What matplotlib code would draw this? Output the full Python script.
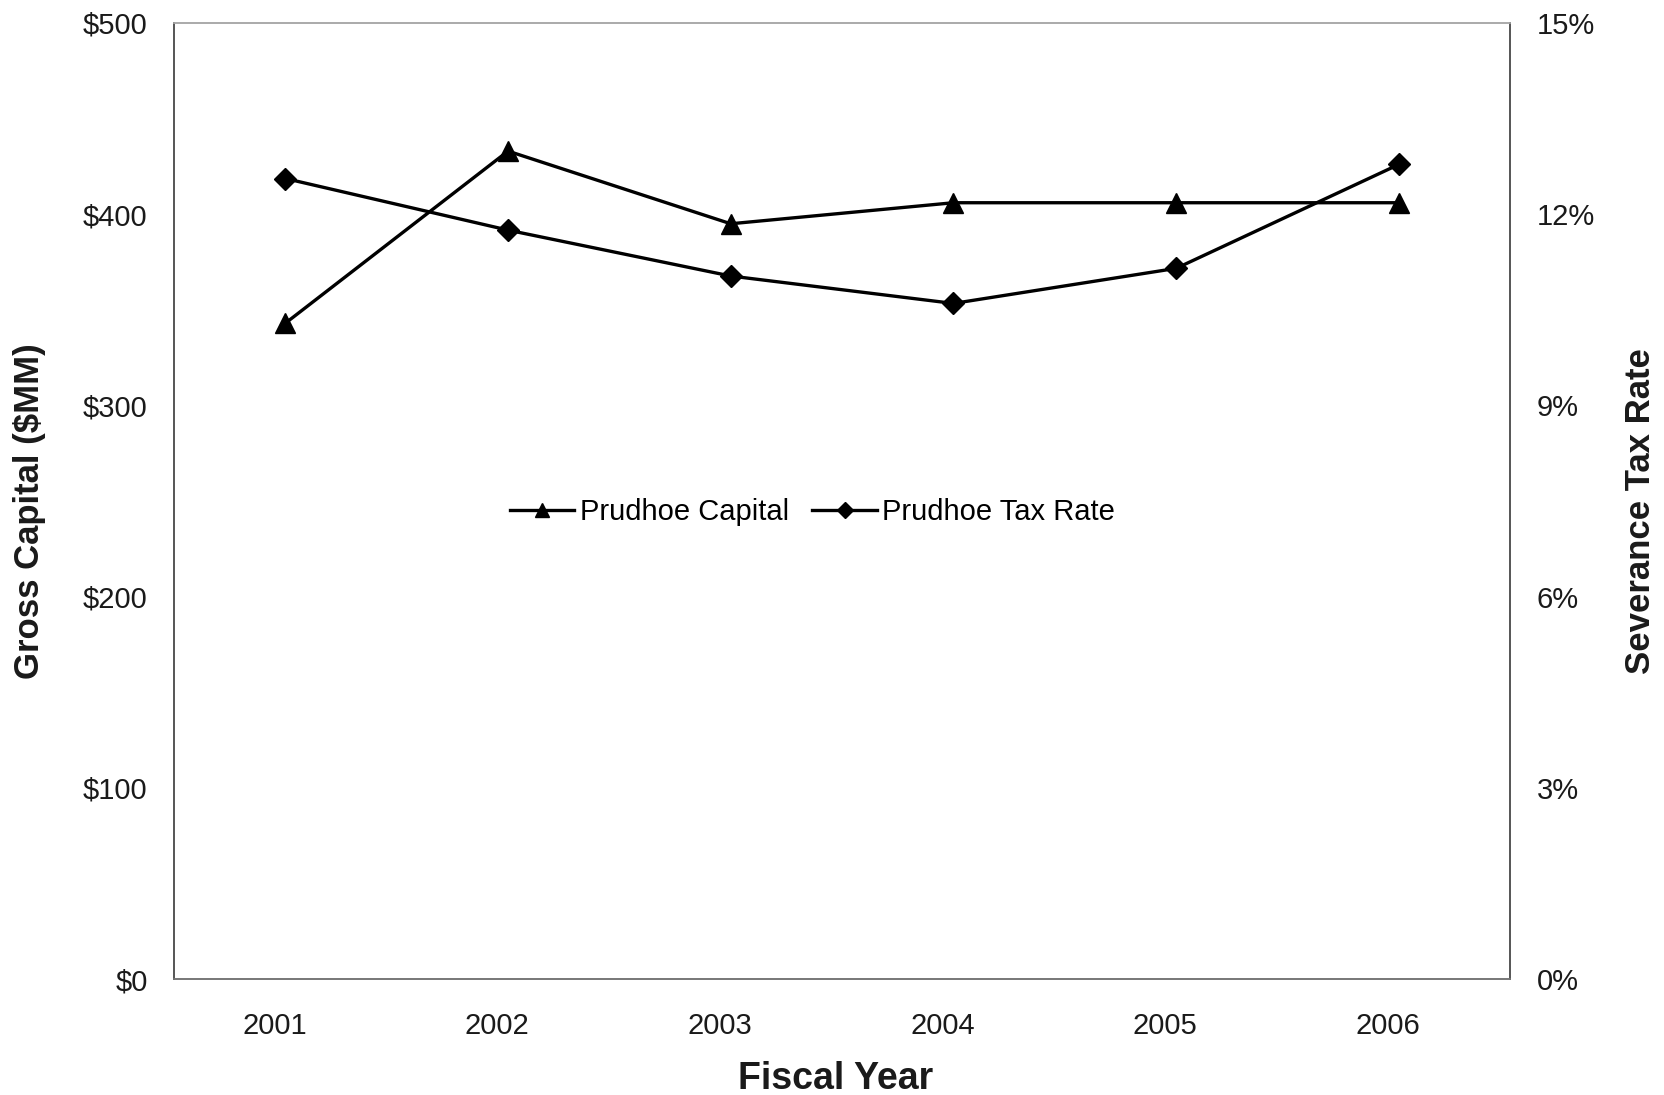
import matplotlib
matplotlib.use("Agg")
import matplotlib.pyplot as plt
from matplotlib.ticker import FuncFormatter
from matplotlib.transforms import ScaledTranslation

plt.rcParams['font.family'] = ['Liberation Sans', 'DejaVu Sans']

years = ["2001", "2002", "2003", "2004", "2005", "2006"]
capital = [343, 433, 395, 406, 406, 406]          # $MM
tax_rate = [12.56, 11.75, 11.03, 10.6, 11.15, 12.78]  # percent

fig = plt.figure(figsize=(16.64, 10.95), dpi=100)
ax = fig.add_axes([0.1046, 0.1059, 0.8029, 0.8731])
ax2 = ax.twinx()

x = range(len(years))
l1, = ax.plot(x, capital, color="black", lw=2.4, marker="^", ms=15,
              label="Prudhoe Capital")
l2, = ax2.plot(x, tax_rate, color="black", lw=2.4, marker="D", ms=11,
               label="Prudhoe Tax Rate")

ax.set_xlim(-0.5, len(years) - 0.5)
ax.set_ylim(0, 500)
ax2.set_ylim(0, 15)
ax.set_xticks(list(x))
ax.set_xticklabels(years)
ax.set_yticks(range(0, 501, 100))
ax.yaxis.set_major_formatter(FuncFormatter(lambda v, p: f"${v:.0f}"))
ax2.set_yticks(range(0, 16, 3))
ax2.yaxis.set_major_formatter(FuncFormatter(lambda v, p: f"{v:.0f}%"))

for a in (ax, ax2):
    a.tick_params(length=0, labelsize=21, colors="#1a1a1a")
ax.tick_params(axis="y", pad=19)
ax.tick_params(axis="x", pad=24)
ax2.tick_params(axis="y", pad=19)

# year labels sit a little left of their points
shift = ScaledTranslation(-0.11, 0, fig.dpi_scale_trans)
for lab in ax.get_xticklabels():
    lab.set_transform(lab.get_transform() + shift)

for a in (ax, ax2):
    a.spines["left"].set_color("#555555")
    a.spines["bottom"].set_color("#777777")
    a.spines["top"].set_color("#aaaaaa")
    a.spines["right"].set_color("#555555")
    for s in a.spines.values():
        s.set_linewidth(1.2)

ax.set_xlabel("Fiscal Year", fontsize=27, fontweight="bold", color="#1a1a1a")
ax.xaxis.set_label_coords(0.4955, -0.0855)
ax.set_ylabel("Gross Capital ($MM)", fontsize=25, fontweight="bold",
              color="#1a1a1a")
ax.yaxis.set_label_coords(-0.096, 0.489)
ax2.set_ylabel("Severance Tax Rate", fontsize=25, fontweight="bold",
               color="#1a1a1a")
ax2.yaxis.set_label_coords(1.085, 0.489)

ax.legend(handles=[l1, l2], loc="center", bbox_to_anchor=(0.478, 0.488),
          ncol=2, frameon=False, fontsize=21, handlelength=2.2,
          handletextpad=0.2, columnspacing=0.8, markerscale=0.7)

fig.savefig("out.png", dpi=100, facecolor="white")
